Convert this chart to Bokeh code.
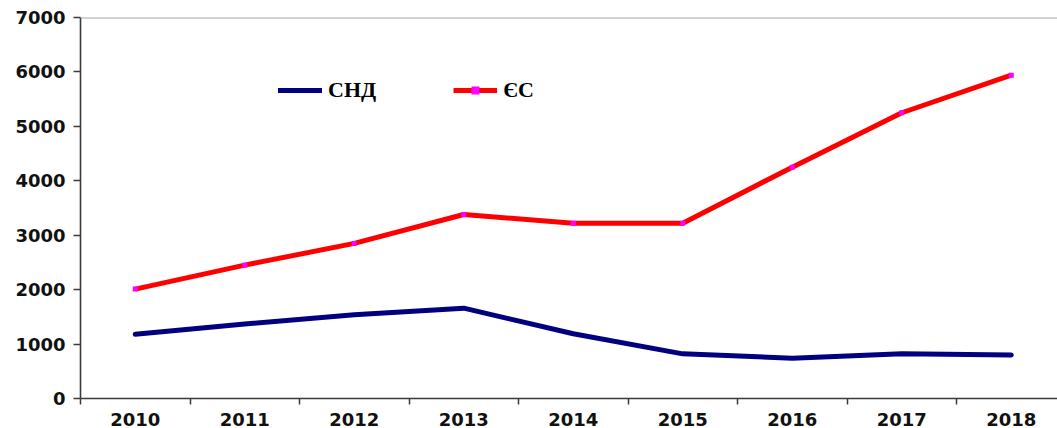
from bokeh.plotting import figure
from bokeh.models import Range1d, FixedTicker, Span, Legend, LegendItem
from bokeh.embed import file_html
from bokeh.resources import INLINE

years = [2010, 2011, 2012, 2013, 2014, 2015, 2016, 2017, 2018]
snd = [1180, 1370, 1540, 1660, 1190, 820, 740, 820, 800]
es = [2010, 2450, 2850, 3380, 3220, 3220, 4250, 5250, 5940]
y_ticks = [0, 1000, 2000, 3000, 4000, 5000, 6000, 7000]
series_names = ["СНД", "ЄС"]

p = figure(width=1057, height=428, output_backend="svg", toolbar_location=None,
           x_range=Range1d(2009.5, 2018.422), y_range=Range1d(0, 7000),
           min_border_left=80, min_border_top=17, min_border_right=0, min_border_bottom=0)
p.outline_line_color = None
p.xgrid.visible = False
p.ygrid.visible = False

# axes
p.yaxis.ticker = FixedTicker(ticks=y_ticks)
p.yaxis.major_tick_out = 7
p.yaxis.major_tick_in = 0
p.yaxis.minor_tick_out = 0
p.yaxis.minor_tick_in = 0
p.yaxis.major_label_standoff = 8
p.xaxis.ticker = FixedTicker(ticks=years, minor_ticks=[y - 0.5 for y in years] + [years[-1] + 0.5])
p.xaxis.major_tick_out = 0
p.xaxis.major_tick_in = 0
p.xaxis.minor_tick_out = 6
p.xaxis.minor_tick_in = 0
p.xaxis.major_label_standoff = 8
for ax in (p.xaxis[0], p.yaxis[0]):
    ax.axis_line_color = "#3a3a3a"
    ax.axis_line_width = 1.6
    ax.major_tick_line_color = "#3a3a3a"
    ax.minor_tick_line_color = "#3a3a3a"
    ax.major_tick_line_width = 1.5
    ax.minor_tick_line_width = 1.5
    ax.major_label_text_font = "DejaVu Sans"
    ax.major_label_text_font_style = "bold"
    ax.major_label_text_font_size = "18px"
    ax.major_label_text_color = "#111111"

p.add_layout(Span(location=7000, dimension="width", line_color="#a6a6a6", line_width=2))

r1 = p.line(years, snd, line_color="#000080", line_width=5, line_join="round", line_cap="round")
r2 = p.line(years, es, line_color="#ff0000", line_width=5, line_join="round")
r3 = p.scatter(years, es, marker="square", size=5, fill_color="#ff00ff", line_color=None)

legend = Legend(items=[LegendItem(label=series_names[0], renderers=[r1]),
                       LegendItem(label=series_names[1], renderers=[r2, r3])],
                orientation="horizontal", location=(198, 295),
                glyph_width=44, glyph_height=20, label_standoff=6, spacing=77,
                padding=0, margin=0, border_line_color=None, background_fill_alpha=0,
                label_text_font="Liberation Serif", label_text_font_style="bold",
                label_text_font_size="22px", label_text_color="#000000")
p.add_layout(legend, "center")

open("out.html", "w").write(file_html(p, INLINE))
